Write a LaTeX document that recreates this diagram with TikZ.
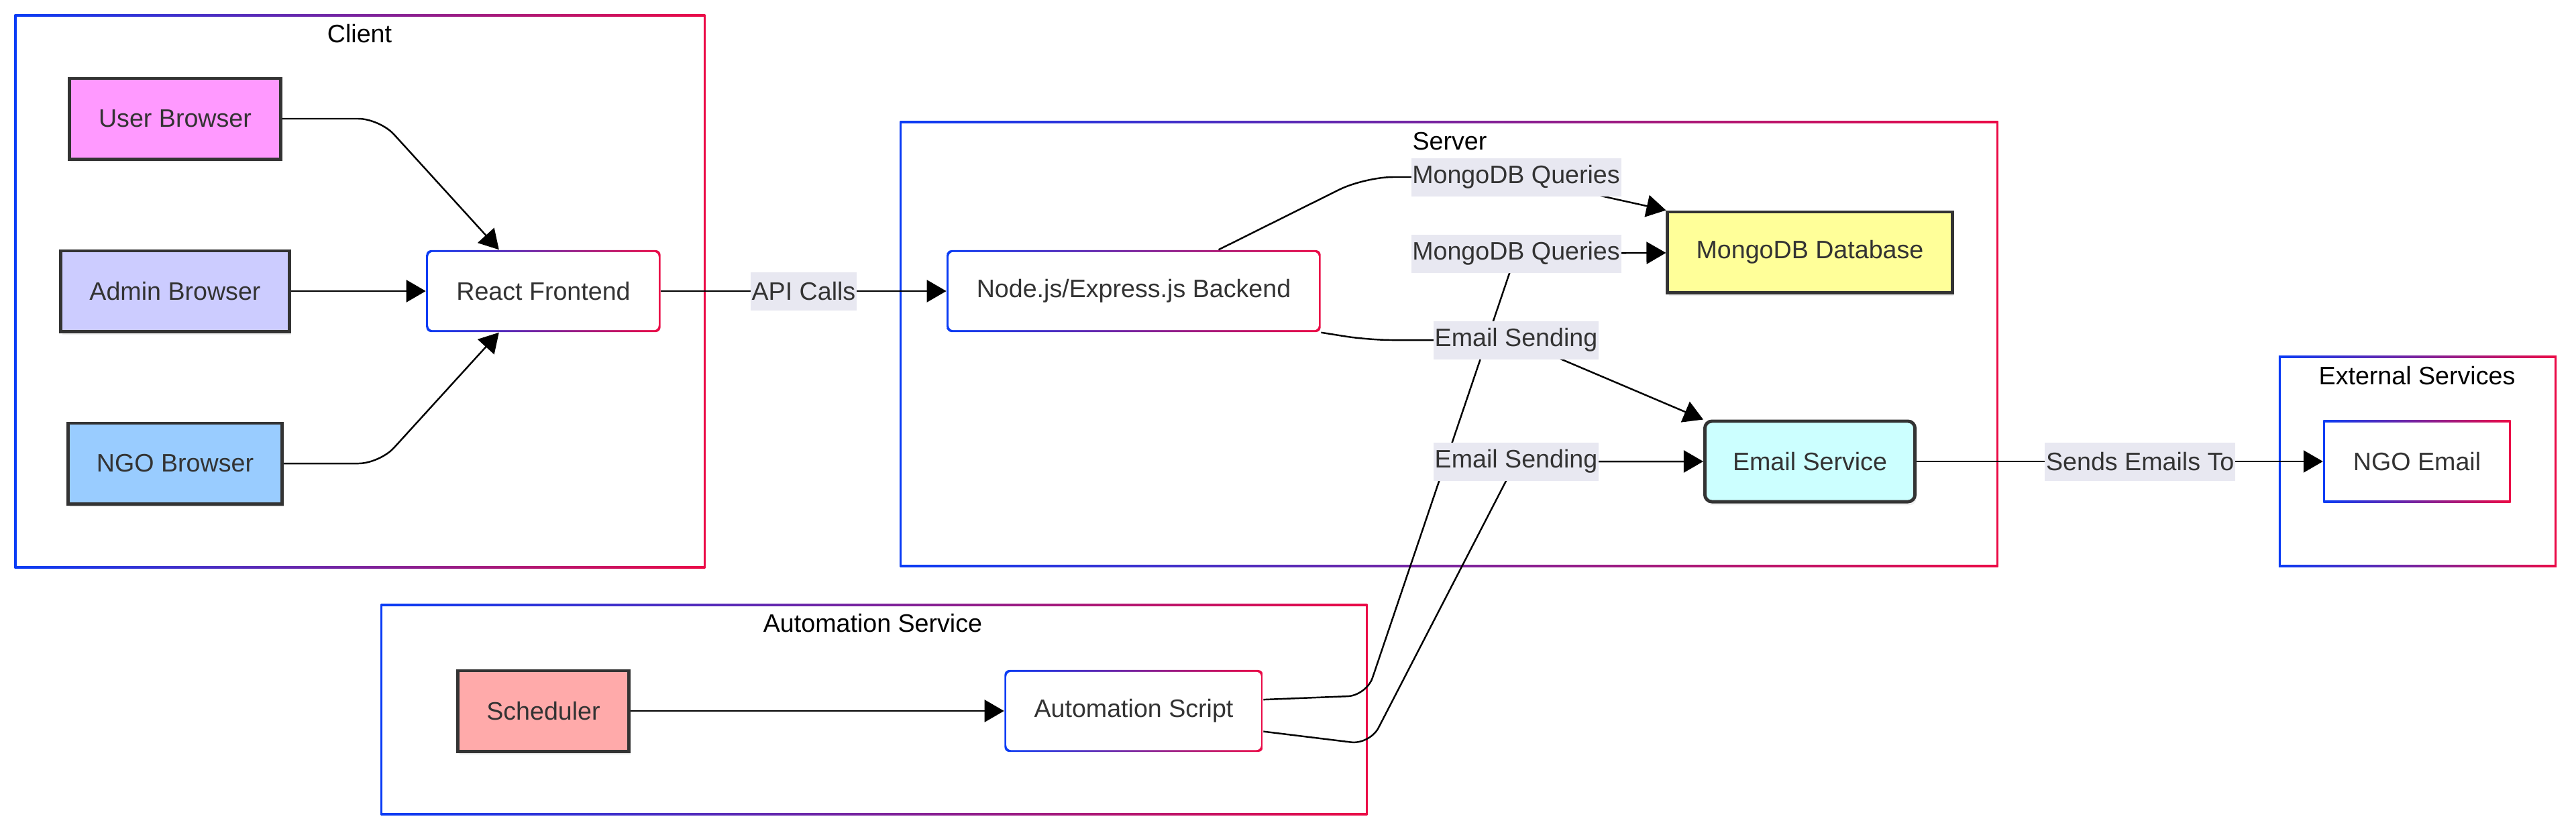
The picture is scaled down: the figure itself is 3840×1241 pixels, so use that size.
\documentclass[tikz,border=0pt]{standalone}
\usepackage{fontspec}
\setmainfont{Liberation Sans}
\usepackage{xcolor}
\usepackage{tikz}
\usetikzlibrary{positioning,shapes,shadows,arrows.meta}

\definecolor{gblue}{RGB}{10,60,245}
\definecolor{gred}{RGB}{235,10,70}
\definecolor{txt}{RGB}{51,51,51}
\definecolor{lblbg}{RGB}{232,232,241}
\definecolor{userfill}{RGB}{255,153,255}
\definecolor{adminfill}{RGB}{204,204,255}
\definecolor{ngofill}{RGB}{153,204,255}
\definecolor{dbfill}{RGB}{255,255,153}
\definecolor{mailfill}{RGB}{204,255,255}
\definecolor{schedfill}{RGB}{255,170,170}

\begin{document}
\begin{tikzpicture}[x=0.01cm, y=-0.01cm,
        font=\fontsize{10.7}{12.8}\selectfont,
        every node/.style={text=txt},
        gradnode/.style={draw=none, rounded corners=#1,
            left color=gblue, right color=gred, minimum height=1.22cm,
            path picture={\fill[white, rounded corners=#1]
                ([shift={(0.8pt,-0.8pt)}]path picture bounding box.north west) rectangle
                ([shift={(-0.8pt,0.8pt)}]path picture bounding box.south east);}},
        gradnode/.default=2pt,
        cluster/.style={gradnode=0pt},
        solidbox/.style={draw=txt, line width=1.4pt, minimum height=1.2cm,
            drop shadow={opacity=0.12, shadow xshift=0.6pt, shadow yshift=-1.5pt}},
        ctitle/.style={text=black},
        lbl/.style={fill=lblbg, sharp corners, inner xsep=0.5pt, inner ysep=0pt, minimum height=0.57cm},
        edge/.style={draw=black, line width=0.7pt, -{Triangle[length=0.29cm, width=0.33cm]}}]
    \useasboundingbox (0,0) rectangle (3840,1241);

    % groups
    \node[cluster, minimum width=10.29cm, minimum height=8.25cm] (client) at (536.5,434.5) {};
    \node[cluster, minimum width=16.36cm, minimum height=6.64cm] (server) at (2160,513) {};
    \node[cluster, minimum width=14.7cm, minimum height=3.14cm] (auto) at (1303,1058) {};
    \node[cluster, minimum width=4.14cm, minimum height=3.14cm] (ext) at (3604,688) {};
    \node[ctitle] at (536,50) {Client};
    \node[ctitle] at (2161,211) {Server};
    \node[ctitle] at (1301,929) {Automation Service};
    \node[ctitle] at (3603,560) {External Services};

    % nodes
    \node[solidbox, fill=userfill, minimum width=3.14cm] (ub) at (261,177) {User Browser};
    \node[solidbox, fill=adminfill, minimum width=3.41cm] (ab) at (261,434) {Admin Browser};
    \node[solidbox, fill=ngofill, minimum width=3.19cm] (nb) at (261,691) {NGO Browser};
    \node[gradnode, minimum width=3.49cm] (rf) at (810,434) {React Frontend};
    \node[gradnode, minimum width=5.57cm] (be) at (1690,434) {Node.js/Express.js Backend};
    \node[solidbox, fill=dbfill, minimum width=4.24cm] (db) at (2698,376) {MongoDB Database};
    \node[solidbox, fill=mailfill, rounded corners=3pt, minimum width=3.13cm] (es) at (2698,688) {Email Service};
    \node[gradnode=0pt, minimum width=2.79cm] (ne) at (3603,688) {NGO Email};
    \node[solidbox, fill=schedfill, minimum width=2.55cm] (sc) at (810,1060) {Scheduler};
    \node[gradnode, minimum width=3.85cm] (as) at (1690,1060) {Automation Script};

    % edges
    \draw[edge, rounded corners=9pt] (ub.east) -- (566,177) -- (rf.137);
    \draw[edge] (ab) -- (rf);
    \draw[edge, rounded corners=9pt] (nb.east) -- (566,691) -- (rf.-137);
    \draw[edge] (rf) -- node[lbl] {API Calls} (be);
    \draw[edge] (sc) -- (as);
    \draw[edge, rounded corners=8pt] (as.5) -- (2037,1037) -- (2260,378) node[lbl] {MongoDB Queries} -- (db);
    \draw[edge, rounded corners=8pt] (as.-9) -- (2042,1110) -- (2260,688) node[lbl] {Email Sending} -- (es);
    \draw[edge, rounded corners=10pt] (be.south east) -- (2040,507) -- (2260,507) node[lbl] {Email Sending} -- (es.north west);
    \draw[edge, rounded corners=12pt] (be.26) -- (2034,264) -- (2260,264) node[lbl] {MongoDB Queries} -- (db.north west);
    \draw[edge] (es) -- node[lbl, pos=0.55] {Sends Emails To} (ne);
\end{tikzpicture}
\end{document}
